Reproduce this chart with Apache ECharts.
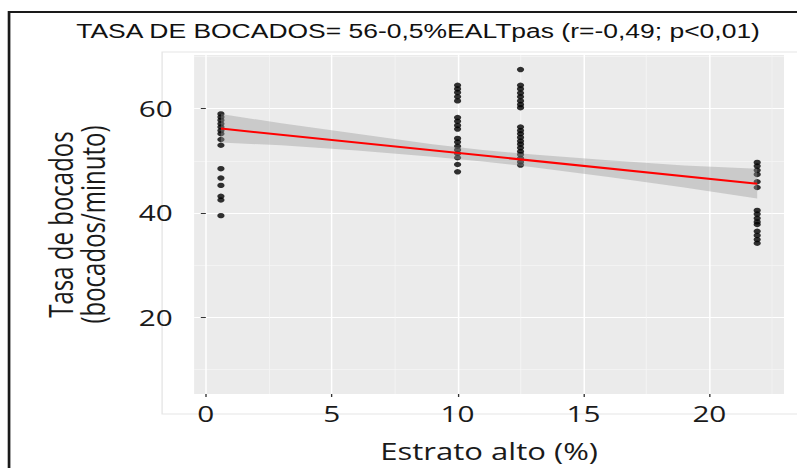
<!DOCTYPE html>
<html><head><meta charset="utf-8">
<script src="https://cdn.jsdelivr.net/npm/echarts@6/dist/echarts.min.js"></script>
<style>
html,body{margin:0;padding:0;background:#fff;overflow:hidden;}
#wrap{width:797px;height:468px;overflow:hidden;position:relative;background:#fff;}
#c{width:590px;height:468px;transform:scaleX(1.3508);transform-origin:0 0;}
</style></head><body><div id="wrap"><div id="c"></div></div>
<script>
const titleText = 'TASA DE BOCADOS= 56-0,5%EALTpas (r=-0,49; p<0,01)';
const xAxisName = 'Estrato alto (%)';
const yAxisName = 'Tasa de bocados\n(bocados/minuto)';
const xTicks = [0, 5, 10, 15, 20];
const xMinor = [2.5, 7.5, 12.5, 17.5, 22.5];
const yTicks = [20, 40, 60];
const yMinor = [10, 30, 50, 70];

// observations: estrato alto (%) and tasa de bocados per group
const estratoGroups = [0.6, 10, 12.5, 21.9];
const tasaG1 = [59.0, 58.4, 57.8, 57.1, 56.5, 55.8, 55.2, 54.1, 53.0, 48.5, 46.7, 45.3, 43.2, 42.5, 39.5];
const tasaG2 = [64.5, 63.8, 63.1, 62.3, 61.5, 58.3, 57.6, 56.8, 56.1, 54.3, 53.6, 52.8, 52.1, 51.4, 50.6, 49.3, 47.9];
const tasaG3 = [67.5, 64.5, 63.8, 63.0, 62.3, 61.5, 60.8, 60.2, 56.5, 55.8, 55.2, 54.5, 53.8, 53.2, 52.5, 51.8, 51.2, 50.5, 49.8, 49.2];
const tasaG4 = [49.7, 49.0, 48.2, 47.4, 46.0, 44.9, 40.5, 39.8, 39.0, 38.3, 37.8, 36.5, 35.7, 34.9, 34.2];

// fitted line and confidence band
const fitX = [0.6, 21.9];
const fitY = [56.2, 45.6];
const bandX  = [0.6, 3, 6, 9, 11, 13, 16, 19, 21.9];
const bandLo = [53.5, 53.0, 52.0, 50.8, 49.9, 48.8, 46.9, 44.9, 42.8];
const bandHi = [59.0, 57.2, 55.2, 53.2, 52.1, 51.2, 50.1, 49.1, 48.5];

const groups = [tasaG1, tasaG2, tasaG3, tasaG4];
const points = [];
groups.forEach((g, gi) => g.forEach(v => points.push([estratoGroups[gi], v])));

const FONT = 'Open Sans';
const chart = echarts.init(document.getElementById('c'), null, {renderer: 'svg'});
chart.setOption({
  animation: false,
  backgroundColor: 'transparent',
  title: {
    text: titleText, left: 304.5, textAlign: 'center', top: 16,
    textStyle: {fontFamily: 'Liberation Sans', fontSize: 19.6, fontWeight: 'normal', color: '#111'}
  },
  grid: {left: 143.7, right: 9.6, top: 55, bottom: 74, show: true, backgroundColor: '#EBEBEB', borderWidth: 0, outerBoundsMode: 'none'},
  graphic: [
    {type: 'rect', shape: {x: 120, y: 52, width: 480, height: 362}, style: {fill: null, stroke: '#e6e6e6', lineWidth: 1}, z: -1},
    {type: 'polyline', shape: {points: [[6.7, 470], [6.7, 12], [600, 12]]}, style: {fill: null, stroke: '#1a1a1a', lineWidth: 2}}
  ],
  xAxis: [
    {type: 'value', min: -0.465, max: 22.965, name: xAxisName, nameLocation: 'middle', nameGap: 46,
     nameTextStyle: {fontFamily: FONT, fontSize: 23, color: '#1a1a1a'},
     axisLine: {show: false},
     axisTick: {show: true, length: 3, customValues: xTicks, lineStyle: {color: '#333', width: 1}},
     axisLabel: {customValues: xTicks, fontFamily: FONT, fontSize: 22, color: '#1a1a1a', margin: 9},
     splitLine: {show: true, lineStyle: {color: '#ffffff', width: 1.1}}},
    {type: 'value', min: -0.465, max: 22.965, position: 'bottom',
     axisLine: {show: false}, axisTick: {show: false, customValues: xMinor}, axisLabel: {show: false, customValues: xMinor},
     splitLine: {show: true, lineStyle: {color: '#f7f7f7', width: 0.6}}}
  ],
  yAxis: [
    {type: 'value', min: 5.3, max: 70.3, name: yAxisName, nameLocation: 'middle', nameGap: 63,
     nameTextStyle: {fontFamily: FONT, fontSize: 24, color: '#1a1a1a', lineHeight: 24, align: 'center'},
     axisLine: {show: false},
     axisTick: {show: true, length: 3.7, customValues: yTicks, lineStyle: {color: '#333', width: 1}},
     axisLabel: {customValues: yTicks, fontFamily: FONT, fontSize: 22, color: '#1a1a1a', margin: 15.8},
     splitLine: {show: true, lineStyle: {color: '#ffffff', width: 1.1}}},
    {type: 'value', min: 5.3, max: 70.3, position: 'left',
     axisLine: {show: false}, axisTick: {show: false, customValues: yMinor}, axisLabel: {show: false, customValues: yMinor},
     splitLine: {show: true, lineStyle: {color: '#f7f7f7', width: 0.6}}}
  ],
  series: [
    {type: 'scatter', xAxisIndex: 0, yAxisIndex: 0, data: points, symbol: 'circle', symbolSize: 5.4,
     itemStyle: {color: '#000000'}, z: 2},
    {type: 'custom', xAxisIndex: 0, yAxisIndex: 0, data: [[bandX[0], bandLo[0]]], silent: true, z: 3,
     renderItem: function (params, api) {
       const pts = [];
       for (let i = 0; i < bandX.length; i++) pts.push(api.coord([bandX[i], bandHi[i]]));
       for (let i = bandX.length - 1; i >= 0; i--) pts.push(api.coord([bandX[i], bandLo[i]]));
       return {type: 'polygon', shape: {points: pts}, style: {fill: 'rgba(153,153,153,0.4)'}};
     }},
    {type: 'line', xAxisIndex: 0, yAxisIndex: 0, data: fitX.map((x, i) => [x, fitY[i]]), symbol: 'none',
     lineStyle: {color: '#ff0000', width: 2}, z: 4}
  ]
});
</script></body></html>
